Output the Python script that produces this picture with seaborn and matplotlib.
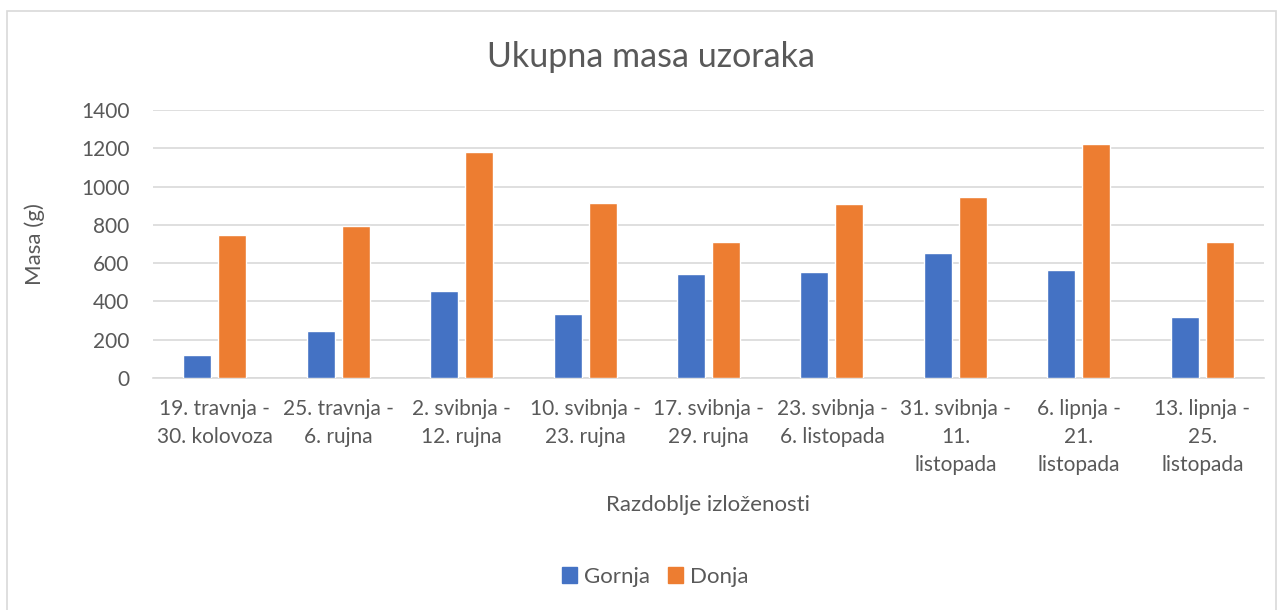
import matplotlib.pyplot as plt
import matplotlib as mpl
import seaborn as sns
import pandas as pd
from matplotlib.patches import Rectangle

# chart data
periods = ['19. travnja -\n30. kolovoza', '25. travnja -\n6. rujna', '2. svibnja -\n12. rujna',
           '10. svibnja -\n23. rujna', '17. svibnja -\n29. rujna', '23. svibnja -\n6. listopada',
           '31. svibnja -\n11.\nlistopada', '6. lipnja -\n21.\nlistopada', '13. lipnja -\n25.\nlistopada']
gornja = [120, 248, 454, 332, 545, 555, 651, 564, 318]
donja = [747, 792, 1182, 915, 712, 908, 946, 1222, 709]
series = ['Gornja', 'Donja']
yticks = [0, 200, 400, 600, 800, 1000, 1200, 1400]

df = pd.DataFrame({'Razdoblje': periods * 2,
                   'Masa': gornja + donja,
                   'Polozaj': ['Gornja'] * len(periods) + ['Donja'] * len(periods)})

sns.set_theme(style="white")
plt.rcParams['font.family'] = ['Lato', 'DejaVu Sans']
txt = '#595959'

fig = plt.figure(figsize=(12.83, 6.10), dpi=100)
ax = fig.add_axes([153/1283, 1-378/610, 1111/1283, 268/610])

sns.barplot(data=df, x='Razdoblje', y='Masa', hue='Polozaj', hue_order=series,
            palette={'Gornja': '#4472C4', 'Donja': '#ED7D31'}, width=0.567, gap=0.2,
            saturation=1, ax=ax, legend=False, zorder=3)

ax.set_ylim(0, 1400)
ax.set_yticks(yticks)
ax.set_xlim(-0.5, len(periods) - 0.5)
ax.grid(axis='y', color='#d9d9d9', linewidth=1.2, zorder=0)
ax.set_axisbelow(True)
for s in ['top', 'right', 'left']:
    ax.spines[s].set_visible(False)
ax.spines['bottom'].set_color('#d9d9d9')
ax.spines['bottom'].set_linewidth(1.2)
ax.tick_params(axis='both', length=0, labelsize=15, colors=txt)
ax.tick_params(axis='x', pad=15)
ax.tick_params(axis='y', pad=17)
for lab in ax.get_xticklabels():
    lab.set_linespacing(1.5)
    lab.set_verticalalignment('top')

ax.set_xlabel('Razdoblje izloženosti', fontsize=16, color=txt, va='center')
ax.xaxis.set_label_coords(0.5, (378 - 505) / 268)
ax.set_ylabel('Masa (g)', fontsize=16, color=txt, va='center')
ax.yaxis.set_label_coords((35 - 153) / 1111, 0.5)
fig.text(651/1283, 1-57/610, 'Ukupna masa uzoraka', ha='center', va='center',
         fontsize=24.5, color=txt)

handles = [Rectangle((0, 0), 1, 1, color='#4472C4'), Rectangle((0, 0), 1, 1, color='#ED7D31')]
fig.legend(handles, series, loc='center', bbox_to_anchor=(655/1283, 1-577/610), ncol=2,
           frameon=False, fontsize=16, handlelength=0.7, handleheight=0.7,
           handletextpad=0.3, columnspacing=0.8, labelcolor=txt)

fig.patches.append(Rectangle((7/1283, -0.01), 1269/1283, 1-11/610+0.01, transform=fig.transFigure,
                             fill=False, edgecolor='#d9d9d9', linewidth=1.2))

plt.savefig('out.png', dpi=100)
